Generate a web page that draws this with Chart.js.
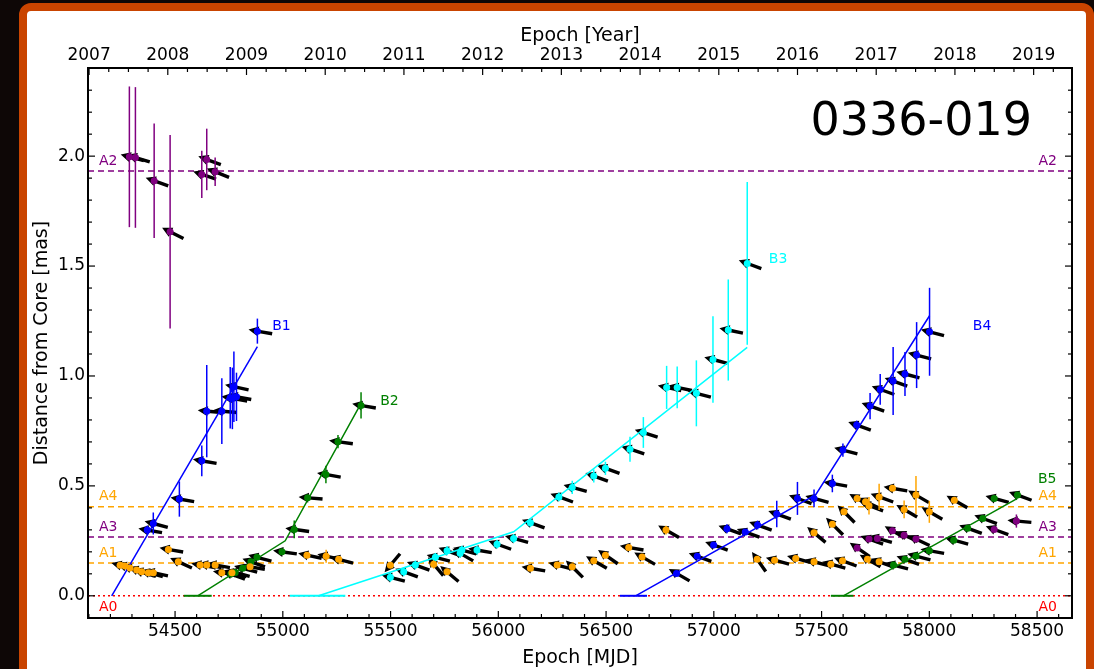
<!DOCTYPE html>
<html>
<head>
<meta charset="utf-8">
<script src="https://cdn.jsdelivr.net/npm/chart.js@4.4.1/dist/chart.umd.min.js"></script>
<style>
html, body { margin: 0; padding: 0; background: #0e0706; overflow: hidden; }
#frame { position: absolute; left: 19px; top: 3px; width: 1075px; height: 720px; box-sizing: border-box;
         background: #fff; border: 8px solid #c94400; border-radius: 12px; }
#wrap { position: absolute; left: 0; top: 0; width: 1094px; height: 669px; }
</style>
</head>
<body>
<div id="frame"></div>
<div id="wrap"><canvas id="chart" width="1094" height="669"></canvas></div>
<script>
// axis ranges and ticks
const X_MIN = 54096, X_MAX = 58662;
const Y_MIN = -0.101, Y_MAX = 2.401;
const MJD_2007 = 54101;
const mjdTicks = [54500, 55000, 55500, 56000, 56500, 57000, 57500, 58000, 58500];
const yearTicks = [2007, 2008, 2009, 2010, 2011, 2012, 2013, 2014, 2015, 2016, 2017, 2018, 2019];
const distTicks = [0.0, 0.5, 1.0, 1.5, 2.0];

// stationary features
const refNames = ['A0', 'A1', 'A2', 'A3', 'A4'];
const refDist = [0.0, 0.149, 1.932, 0.267, 0.405];

// A1 (orange, near core)
const a1Mjd = [54245, 54268, 54291, 54322, 54345, 54376, 54399, 54469, 54515, 54616, 54647, 54686, 54717, 54764, 54848,
  55112, 55201, 55259, 55499, 55700, 55762, 56149, 56273, 56343, 56443, 56497, 56605, 56667,
  57201, 57282, 57380, 57465, 57543, 57597, 57713, 57767];
const a1Dist = [0.139, 0.135, 0.127, 0.117, 0.109, 0.105, 0.105, 0.211, 0.155, 0.140, 0.140, 0.140, 0.105, 0.105, 0.132,
  0.185, 0.180, 0.166, 0.139, 0.144, 0.109, 0.125, 0.140, 0.132, 0.159, 0.185, 0.220, 0.177,
  0.166, 0.162, 0.170, 0.155, 0.144, 0.159, 0.166, 0.155];
const a1Err = [0.01, 0.01, 0.01, 0.01, 0.01, 0.01, 0.01, 0.01, 0.01, 0.01, 0.01, 0.01, 0.01, 0.01, 0.01,
  0.01, 0.03, 0.01, 0.01, 0.02, 0.01, 0.01, 0.01, 0.01, 0.01, 0.01, 0.01, 0.01,
  0.01, 0.01, 0.01, 0.01, 0.01, 0.01, 0.01, 0.01];
const a1Ang = [165, 163, 162, 160, 162, 165, 168, 170, 155, 170, 170, 170, 170, 165, 170,
  168, 168, 165, 230, 130, 140, 170, 165, 135, 150, 145, 170, 150,
  125, 165, 165, 165, 165, 160, 150, 160];

// A4 (orange, outer)
const a4Mjd = [56778, 57465, 57550, 57604, 57665, 57704, 57720, 57767, 57829, 57883, 57938, 58000, 58116];
const a4Dist = [0.299, 0.287, 0.326, 0.382, 0.443, 0.428, 0.410, 0.450, 0.489, 0.393, 0.458, 0.382, 0.435];
const a4Err = [0.02, 0.01, 0.01, 0.01, 0.01, 0.01, 0.04, 0.06, 0.01, 0.04, 0.087, 0.05, 0.01];
const a4Ang = [150, 140, 135, 135, 150, 155, 160, 160, 170, 150, 150, 150, 150];

// A2 (purple, far)
const a2Mjd = [54288, 54316, 54403, 54477, 54624, 54647, 54686];
const a2Dist = [1.997, 1.994, 1.888, 1.656, 1.917, 1.985, 1.929];
const a2Err = [0.32, 0.32, 0.26, 0.44, 0.107, 0.14, 0.065];
const a2Ang = [165, 163, 160, 153, 162, 160, 158];

// A3 (purple)
const a3Mjd = [57665, 57720, 57759, 57829, 57883, 57938, 58301, 58404];
const a3Dist = [0.218, 0.258, 0.261, 0.296, 0.276, 0.258, 0.302, 0.340];
const a3Err = [0.01, 0.01, 0.01, 0.01, 0.01, 0.01, 0.01, 0.03];
const a3Ang = [145, 160, 165, 150, 155, 155, 160, 175];

// B1 (blue)
const b1Mjd = [54371, 54399, 54520, 54624, 54647, 54717, 54756, 54766, 54773, 54785, 54882];
const b1Dist = [0.299, 0.329, 0.440, 0.614, 0.840, 0.840, 0.901, 0.898, 0.951, 0.905, 1.204];
const b1Err = [0.02, 0.05, 0.08, 0.07, 0.21, 0.15, 0.14, 0.14, 0.16, 0.11, 0.057];
const b1Ang = [170, 165, 170, 170, 175, 175, 172, 170, 168, 170, 170];

// B2 (green)
const b2Mjd = [54759, 54779, 54814, 54852, 54880, 54996, 55053, 55115, 55200, 55256, 55363];
const b2Dist = [0.099, 0.106, 0.125, 0.155, 0.175, 0.200, 0.302, 0.446, 0.552, 0.701, 0.866];
const b2Err = [0.01, 0.01, 0.01, 0.01, 0.01, 0.01, 0.04, 0.01, 0.04, 0.03, 0.06];
const b2Ang = [160, 165, 165, 160, 165, 172, 172, 175, 170, 172, 170];

// B3 (cyan)
const b3Mjd = [55499, 55561, 55615, 55708, 55762, 55823, 55831, 55901, 55994, 56071, 56149, 56281, 56343, 56443, 56497,
  56611, 56673, 56781, 56830, 56919, 56996, 57067, 57155];
const b3Dist = [0.084, 0.109, 0.140, 0.175, 0.205, 0.193, 0.208, 0.208, 0.235, 0.261, 0.332, 0.450, 0.493, 0.545, 0.580,
  0.667, 0.743, 0.948, 0.948, 0.921, 1.075, 1.209, 1.512];
const b3Err = [0.02, 0.02, 0.02, 0.02, 0.02, 0.02, 0.02, 0.02, 0.02, 0.02, 0.02, 0.02, 0.03, 0.03, 0.03,
  0.057, 0.07, 0.098, 0.095, 0.15, 0.197, 0.23, 0.37];
const b3Ang = [165, 160, 160, 165, 160, 150, 165, 170, 160, 165, 160, 160, 165, 160, 160,
  162, 162, 168, 168, 165, 165, 168, 160];

// B4 (blue)
const b4Mjd = [56827, 56923, 56999, 57061, 57146, 57203, 57292, 57388, 57465, 57550, 57599, 57663, 57725, 57772, 57832, 57887, 57941, 58001];
const b4Dist = [0.102, 0.180, 0.231, 0.305, 0.290, 0.322, 0.372, 0.443, 0.443, 0.511, 0.663, 0.777, 0.863, 0.939, 0.977, 1.009, 1.095, 1.201];
const b4Err = [0.01, 0.01, 0.01, 0.02, 0.01, 0.02, 0.06, 0.075, 0.04, 0.04, 0.03, 0.02, 0.06, 0.07, 0.155, 0.10, 0.15, 0.20];
const b4Ang = [150, 160, 160, 160, 160, 160, 160, 160, 165, 170, 165, 160, 160, 160, 160, 165, 165, 165];

// B5 (green)
const b5Mjd = [57834, 57887, 57938, 58000, 58113, 58178, 58248, 58301, 58409];
const b5Dist = [0.140, 0.166, 0.181, 0.205, 0.253, 0.307, 0.352, 0.443, 0.458];
const b5Err = [0.01, 0.01, 0.01, 0.01, 0.01, 0.01, 0.01, 0.01, 0.01];
const b5Ang = [165, 160, 165, 170, 165, 160, 160, 165, 160];

// kinematic fits: ejection epoch, breaks, end; plus ejection-time uncertainty at zero
const b1FitMjd = [54206, 54882];
const b1FitDist = [0.0, 1.133];
const b2FitMjd = [54605, 55011, 55363];
const b2FitDist = [0.0, 0.250, 0.875];
const b2T0 = [54540, 54670];
const b3FitMjd = [55166, 56071, 57155];
const b3FitDist = [0.0, 0.291, 1.130];
const b3T0 = [55032, 55290];
const b4FitMjd = [56637, 57473, 58001];
const b4FitDist = [0.0, 0.460, 1.274];
const b4T0 = [56564, 56690];
const b5FitMjd = [57601, 58409];
const b5FitDist = [0.0, 0.443];
const b5T0 = [57543, 57648];

const ORANGE = '#ffa500', PURPLE = '#800080', BLUE = '#0000ff', GREEN = '#008000', CYAN = '#00ffff', RED = '#ff0000';
const FONT = "'DejaVu Sans', sans-serif";

const pts = (xs, ys) => xs.map((v, i) => ({ x: v, y: ys[i] }));
const toYear = m => 2007 + (m - MJD_2007) / 365.25;

const comps = [
  { mjd: a1Mjd, dist: a1Dist, err: a1Err, ang: a1Ang, color: ORANGE },
  { mjd: a4Mjd, dist: a4Dist, err: a4Err, ang: a4Ang, color: ORANGE },
  { mjd: a2Mjd, dist: a2Dist, err: a2Err, ang: a2Ang, color: PURPLE },
  { mjd: a3Mjd, dist: a3Dist, err: a3Err, ang: a3Ang, color: PURPLE },
  { mjd: b1Mjd, dist: b1Dist, err: b1Err, ang: b1Ang, color: BLUE },
  { mjd: b2Mjd, dist: b2Dist, err: b2Err, ang: b2Ang, color: GREEN },
  { mjd: b3Mjd, dist: b3Dist, err: b3Err, ang: b3Ang, color: CYAN },
  { mjd: b4Mjd, dist: b4Dist, err: b4Err, ang: b4Ang, color: BLUE },
  { mjd: b5Mjd, dist: b5Dist, err: b5Err, ang: b5Ang, color: GREEN }
];
const fits = [
  { mjd: b1FitMjd, dist: b1FitDist, t0: null, color: BLUE },
  { mjd: b2FitMjd, dist: b2FitDist, t0: b2T0, color: GREEN },
  { mjd: b3FitMjd, dist: b3FitDist, t0: b3T0, color: CYAN },
  { mjd: b4FitMjd, dist: b4FitDist, t0: b4T0, color: BLUE },
  { mjd: b5FitMjd, dist: b5FitDist, t0: b5T0, color: GREEN }
];
const refColors = [RED, ORANGE, PURPLE, PURPLE, ORANGE];

const datasets = [];
refDist.forEach((d, i) => {
  datasets.push({
    data: [{ x: X_MIN, y: d }, { x: X_MAX, y: d }], showLine: true, pointRadius: 0,
    borderColor: refColors[i], borderWidth: 1.5, borderDash: i === 0 ? [2, 3] : [6, 4], order: 10
  });
});
// empty marker dataset: arrows and error bars get drawn right after it
datasets.push({ data: [], order: 9, drawMarks: true });
fits.forEach(f => {
  datasets.push({ data: pts(f.mjd, f.dist), showLine: true, pointRadius: 0, borderColor: f.color, borderWidth: 1.5, order: 3 });
  if (f.t0) {
    datasets.push({ data: [{ x: f.t0[0], y: 0 }, { x: f.t0[1], y: 0 }], showLine: true, pointRadius: 0,
      borderColor: f.color, borderWidth: 2, order: 3 });
  }
});
comps.forEach(c => {
  datasets.push({ data: pts(c.mjd, c.dist), showLine: false, pointRadius: 3.5, pointHoverRadius: 3.5,
    backgroundColor: c.color, borderWidth: 0, order: 1 });
});

// black quiver-style arrow: head just ahead of the point, shaft trailing behind
function drawArrow(ctx, x, y, deg) {
  const t = deg * Math.PI / 180;
  const dx = Math.cos(t), dy = -Math.sin(t);
  const nx = -dy, ny = dx;
  const tipX = x + dx * 9, tipY = y + dy * 9;
  const tailX = x - dx * 15, tailY = y - dy * 15;
  const hl = 10, hw = 5, sw = 1.7;
  const bx = tipX - dx * hl, by = tipY - dy * hl;
  ctx.beginPath();
  ctx.moveTo(tipX, tipY);
  ctx.lineTo(bx + nx * hw, by + ny * hw);
  ctx.lineTo(bx + nx * sw, by + ny * sw);
  ctx.lineTo(tailX + nx * sw, tailY + ny * sw);
  ctx.lineTo(tailX - nx * sw, tailY - ny * sw);
  ctx.lineTo(bx - nx * sw, by - ny * sw);
  ctx.lineTo(bx - nx * hw, by - ny * hw);
  ctx.closePath();
  ctx.fill();
}

const marksPlugin = {
  id: 'marks',
  afterDatasetDraw(chart, args) {
    if (!chart.data.datasets[args.index].drawMarks) return;
    const { ctx, scales: { x, y } } = chart;
    ctx.save();
    ctx.fillStyle = '#000';
    comps.forEach(c => c.mjd.forEach((m, i) => drawArrow(ctx, x.getPixelForValue(m), y.getPixelForValue(c.dist[i]), c.ang[i])));
    ctx.lineWidth = 1.5;
    comps.forEach(c => {
      ctx.strokeStyle = c.color;
      c.mjd.forEach((m, i) => {
        if (!c.err[i]) return;
        const px = x.getPixelForValue(m);
        ctx.beginPath();
        ctx.moveTo(px, y.getPixelForValue(c.dist[i] - c.err[i]));
        ctx.lineTo(px, y.getPixelForValue(c.dist[i] + c.err[i]));
        ctx.stroke();
      });
    });
    ctx.restore();
  }
};

function range(a, b, step) {
  const out = [];
  for (let v = a; v <= b + 1e-9; v += step) out.push(+v.toFixed(4));
  return out;
}

const framePlugin = {
  id: 'frame',
  afterDraw(chart) {
    const { ctx, chartArea: a, scales: { x, y, xTop } } = chart;
    ctx.save();
    ctx.strokeStyle = '#000';
    ctx.lineWidth = 1.2;
    const tick = (x0, y0, x1, y1) => { ctx.beginPath(); ctx.moveTo(x0, y0); ctx.lineTo(x1, y1); ctx.stroke(); };
    range(54100, 58600, 100).forEach(v => {
      const len = mjdTicks.includes(v) ? 7 : 4;
      const px = x.getPixelForValue(v);
      if (px > a.left && px < a.right) tick(px, a.bottom, px, a.bottom - len);
    });
    range(2007, 2019.5, 0.25).forEach(v => {
      const len = Number.isInteger(v) ? 7 : 4;
      const px = xTop.getPixelForValue(v);
      if (px >= a.left && px < a.right) tick(px, a.top, px, a.top + len);
    });
    range(-0.1, 2.4, 0.1).forEach(v => {
      const len = distTicks.some(t => Math.abs(t - v) < 1e-6) ? 7 : 4;
      const py = y.getPixelForValue(v);
      if (py > a.top && py < a.bottom) {
        tick(a.left, py, a.left + len, py);
        tick(a.right, py, a.right - len, py);
      }
    });
    ctx.lineWidth = 2;
    ctx.strokeRect(a.left, a.top, a.right - a.left, a.bottom - a.top);

    // feature labels
    ctx.font = '14px ' + FONT;
    ctx.textBaseline = 'middle';
    refNames.forEach((n, i) => {
      const py = y.getPixelForValue(refDist[i]) + (i === 0 ? 12 : -10);
      ctx.fillStyle = refColors[i];
      ctx.textAlign = 'left';
      ctx.fillText(n, a.left + 11, py);
      ctx.textAlign = 'right';
      ctx.fillText(n, a.right - 15, py);
    });
    const compLabels = [
      { t: 'B1', m: 54951, d: 1.227, c: BLUE, al: 'left' },
      { t: 'B2', m: 55452, d: 0.886, c: GREEN, al: 'left' },
      { t: 'B3', m: 57255, d: 1.532, c: CYAN, al: 'left' },
      { t: 'B4', m: 58202, d: 1.227, c: BLUE, al: 'left' },
      { t: 'B5', m: 58590, d: 0.531, c: GREEN, al: 'right' }
    ];
    compLabels.forEach(l => {
      ctx.fillStyle = l.c;
      ctx.textAlign = l.al;
      ctx.fillText(l.t, x.getPixelForValue(l.m), y.getPixelForValue(l.d));
    });
    ctx.fillStyle = '#000';
    ctx.font = '46px ' + FONT;
    ctx.textAlign = 'right';
    ctx.textBaseline = 'alphabetic';
    ctx.fillText('0336-019', a.right - 40, a.top + 67);
    ctx.restore();
  }
};

Chart.defaults.font.family = FONT;
Chart.defaults.color = '#000';

new Chart(document.getElementById('chart'), {
  type: 'scatter',
  data: { datasets },
  options: {
    responsive: false,
    animation: false,
    devicePixelRatio: 1,
    layout: { padding: { left: 0, right: 22, top: 0, bottom: 0 } },
    plugins: { legend: { display: false }, tooltip: { enabled: false } },
    scales: {
      x: {
        type: 'linear', position: 'bottom', min: X_MIN, max: X_MAX,
        grid: { display: false, drawTicks: false }, border: { display: false },
        afterBuildTicks: s => { s.ticks = mjdTicks.map(v => ({ value: v })); },
        afterFit: s => { s.height = 51; },
        ticks: { font: { size: 17 }, padding: 3, maxRotation: 0, autoSkip: false, callback: v => String(v) },
        title: { display: true, text: 'Epoch [MJD]', font: { size: 19 }, padding: { top: 5.6, bottom: 0 } }
      },
      xTop: {
        type: 'linear', position: 'top', min: toYear(X_MIN), max: toYear(X_MAX),
        grid: { display: false, drawTicks: false }, border: { display: false },
        afterBuildTicks: s => { s.ticks = yearTicks.map(v => ({ value: v })); },
        afterFit: s => { s.height = 68; },
        ticks: { font: { size: 17 }, padding: 2, maxRotation: 0, autoSkip: false, callback: v => String(v) },
        title: { display: true, text: 'Epoch [Year]', font: { size: 19 }, padding: { top: 24.6, bottom: 0 } }
      },
      y: {
        type: 'linear', position: 'left', min: Y_MIN, max: Y_MAX,
        grid: { display: false, drawTicks: false }, border: { display: false },
        afterBuildTicks: s => { s.ticks = distTicks.map(v => ({ value: v })); },
        afterFit: s => { s.width = 88; },
        ticks: { font: { size: 17 }, padding: 3, callback: v => v.toFixed(1) },
        title: { display: true, text: 'Distance from Core [mas]', font: { size: 19 }, padding: { top: 30.6, bottom: 0 } }
      }
    }
  },
  plugins: [marksPlugin, framePlugin]
});
</script>
</body>
</html>
